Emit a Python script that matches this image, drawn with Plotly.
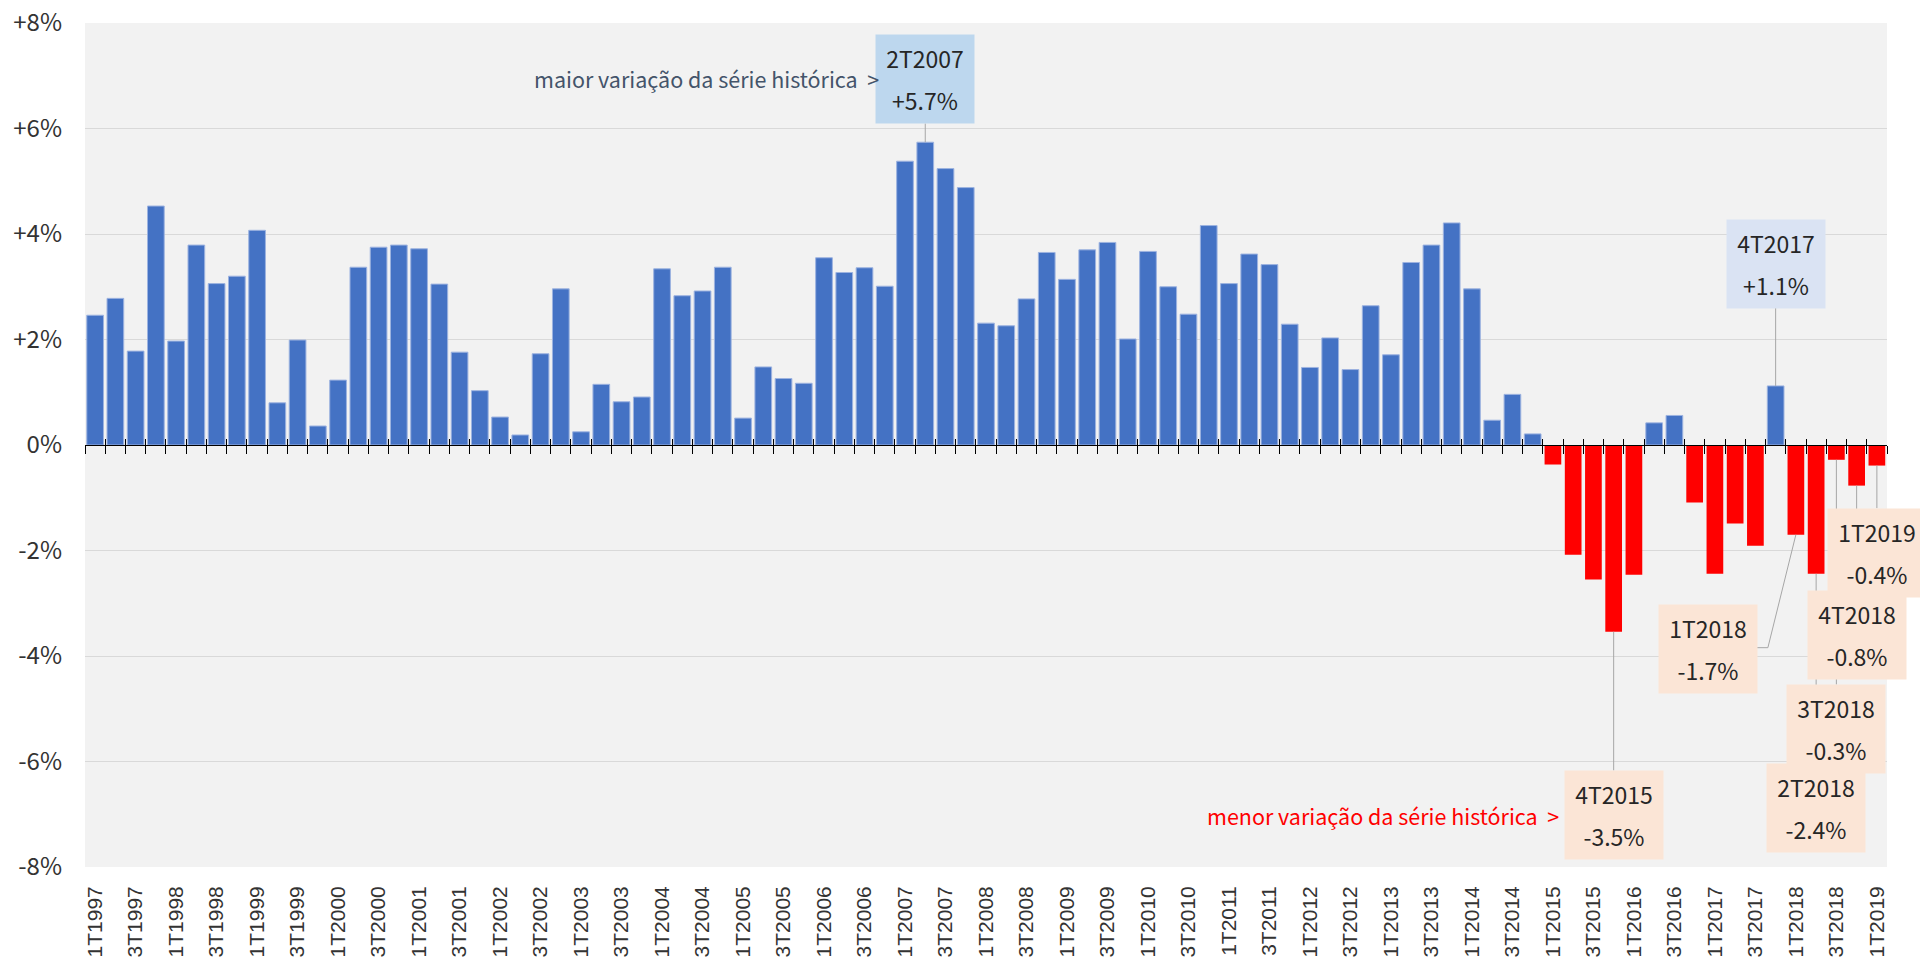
import plotly.graph_objects as go

# ---------------- data ----------------
years = list(range(1997, 2020))
quarters = ["1T", "2T", "3T", "4T"]
categories = [f"{q}{y}" for y in years for q in quarters][:89]

values = [
    2.46, 2.78, 1.78, 4.53,   # 1997
    1.97, 3.79, 3.06, 3.20,   # 1998
    4.07, 0.80, 1.99, 0.36,   # 1999
    1.23, 3.37, 3.75, 3.79,   # 2000
    3.72, 3.05, 1.76, 1.03,   # 2001
    0.53, 0.19, 1.73, 2.96,   # 2002
    0.25, 1.15, 0.82, 0.91,   # 2003
    3.34, 2.83, 2.92, 3.37,   # 2004
    0.51, 1.48, 1.26, 1.17,   # 2005
    3.55, 3.27, 3.36, 3.01,   # 2006
    5.38, 5.74, 5.24, 4.88,   # 2007
    2.31, 2.26, 2.77, 3.65,   # 2008
    3.14, 3.70, 3.84, 2.01,   # 2009
    3.67, 3.00, 2.48, 4.16,   # 2010
    3.06, 3.62, 3.42, 2.29,   # 2011
    1.47, 2.03, 1.43, 2.64,   # 2012
    1.71, 3.46, 3.79, 4.21,   # 2013
    2.96, 0.47, 0.96, 0.21,   # 2014
    -0.37, -2.08, -2.55, -3.54,  # 2015
    -2.46, 0.42, 0.56, -1.09,    # 2016
    -2.44, -1.49, -1.91, 1.12,   # 2017
    -1.70, -2.44, -0.28, -0.77,  # 2018
    -0.39,                       # 2019
]

xtick_labels = categories[::2]
ytick_vals = [-8, -6, -4, -2, 0, 2, 4, 6, 8]
ytick_text = ["-8%", "-6%", "-4%", "-2%", "0%", "+2%", "+4%", "+6%", "+8%"]

# ---------------- styles ----------------
POS_COLOR = "#4472C4"
NEG_COLOR = "#FF0000"
POS_EDGE = "#9DB3E0"
LEADER = "#A6A6A6"
TXT_FONT = "Noto Sans CJK JP"

bar_colors = [POS_COLOR if v >= 0 else NEG_COLOR for v in values]
edge_widths = [1 if v >= 0 else 0 for v in values]

# callout boxes: category, pixel offset of box centre (ax, ay), fill colour
callouts = [
    ("2T2007", 0, -63, "#BDD7EE"),
    ("4T2017", 0, -122, "#DAE3F3"),
    ("4T2015", 0, 183, "#FBE5D6"),
    ("2T2018", 0, 234, "#FBE5D6"),
    ("3T2018", 0, 269, "#FBE5D6"),
    ("4T2018", 0, 149, "#FBE5D6"),
    ("1T2019", 0, 87, "#FBE5D6"),
]

fig = go.Figure()

fig.add_trace(go.Bar(
    x=categories, y=values,
    marker=dict(color=bar_colors, line=dict(color=POS_EDGE, width=edge_widths)),
    showlegend=False, hoverinfo="x+y",
))
# invisible helpers carrying the zero-line tick axes
for ax_id in ("x2", "x3"):
    fig.add_trace(go.Scatter(
        x=categories, y=values, xaxis=ax_id, mode="markers",
        marker=dict(opacity=0), showlegend=False, hoverinfo="skip",
    ))

cat_range = [-0.5, len(categories) - 0.5]

fig.update_layout(
    width=1920, height=966,
    margin=dict(l=85, r=33, t=23, b=99),
    paper_bgcolor="white",
    plot_bgcolor="#F2F2F2",
    bargap=0.175,
    showlegend=False,
    xaxis=dict(
        type="category", categoryorder="array", categoryarray=categories,
        range=cat_range, tickmode="array", tickvals=xtick_labels, ticktext=xtick_labels,
        tickangle=-90, tickfont=dict(family="Liberation Sans", size=21, color="#333333"),
        ticklabelstandoff=14,
        showgrid=False, zeroline=False, showline=False, ticks="", automargin=False,
    ),
    xaxis2=dict(
        type="category", categoryorder="array", categoryarray=categories,
        overlaying="x", anchor="free", position=0.5, range=cat_range,
        tickmode="linear", tick0=0, dtick=1, tickson="boundaries",
        ticks="outside", ticklen=8, tickcolor="#000000", tickwidth=1,
        showticklabels=False, showgrid=False, zeroline=False,
        showline=True, linecolor="#000000", linewidth=1, automargin=False,
    ),
    xaxis3=dict(
        type="category", categoryorder="array", categoryarray=categories,
        overlaying="x", anchor="free", position=0.5, range=cat_range,
        tickmode="linear", tick0=0, dtick=1, tickson="boundaries",
        ticks="inside", ticklen=6, tickcolor="#000000", tickwidth=1,
        showticklabels=False, showgrid=False, zeroline=False, showline=False,
        automargin=False,
    ),
    yaxis=dict(
        range=[-8, 8], tickmode="array", tickvals=ytick_vals, ticktext=ytick_text,
        showgrid=True, gridcolor="#D9D9D9", gridwidth=1, zeroline=False,
        showline=False, ticks="", ticklabelstandoff=22, automargin=False,
        tickfont=dict(family=TXT_FONT, size=24, color="#333333"),
    ),
)

BOX_W, BOX_H = 98, 88


def box_text(cat, val):
    span = "<span style='font-size:23px'>{}</span>"
    return span.format(cat) + "<br>" + span.format(f"{val:+.1f}%")


annotations = []
for cat, axp, ayp, bg in callouts:
    v = values[categories.index(cat)]
    annotations.append(dict(
        x=cat, y=v, xref="x", yref="y", text=box_text(cat, v),
        showarrow=True, ax=axp, ay=ayp, arrowhead=0, arrowwidth=1,
        arrowcolor=LEADER, standoff=0, startstandoff=0,
        bgcolor=bg, width=BOX_W, height=BOX_H, borderpad=0,
        font=dict(family=TXT_FONT, size=32, color="#262626"),
    ))

# 1T2018 box with elbow leader
elbow_cat = "1T2018"
elbow_val = values[categories.index(elbow_cat)]
annotations.insert(3, dict(
    x=elbow_cat, y=elbow_val, xref="x", yref="y", text=box_text(elbow_cat, elbow_val),
    showarrow=False, xshift=-88, yshift=-114, xanchor="center", yanchor="middle",
    bgcolor="#FBE5D6", width=BOX_W, height=BOX_H, borderpad=0,
    font=dict(family=TXT_FONT, size=32, color="#262626"),
))
fig.add_shape(
    type="path", xref="x", yref="y", xsizemode="pixel", ysizemode="pixel",
    xanchor=categories.index(elbow_cat), yanchor=elbow_val,
    path="M0,0 L-28,-113 L-40,-113",
    line=dict(color=LEADER, width=1), layer="above",
)

# side notes
hi_cat = "2T2007"
lo_cat = "4T2015"
annotations.append(dict(
    x=hi_cat, y=values[categories.index(hi_cat)], xref="x", yref="y",
    text="maior variação da série histórica  &gt;", showarrow=False,
    xanchor="right", yanchor="middle", xshift=-44, yshift=64,
    font=dict(family=TXT_FONT, size=21.5, color="#44546A"),
))
annotations.append(dict(
    x=lo_cat, y=values[categories.index(lo_cat)], xref="x", yref="y",
    text="menor variação da série histórica  &gt;", showarrow=False,
    xanchor="right", yanchor="middle", xshift=-53, yshift=-184,
    font=dict(family=TXT_FONT, size=21.5, color="#FF0000"),
))

fig.update_layout(annotations=annotations)

fig.write_html(
    "out.html",
    config={"displayModeBar": False},
    post_script="document.body.style.margin='0';document.body.style.overflow='hidden';",
)
